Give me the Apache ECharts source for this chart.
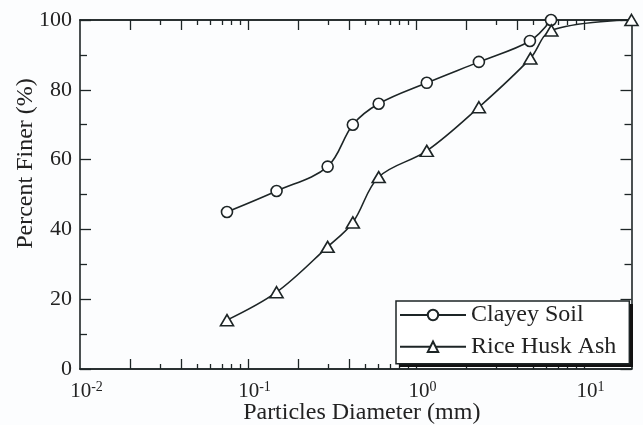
<!DOCTYPE html>
<html>
<head>
<meta charset="utf-8">
<script src="https://cdn.jsdelivr.net/npm/echarts@6/dist/echarts.min.js"></script>
<style>
html,body{margin:0;padding:0;background:#fcfdfe;}
#c{width:643px;height:425px;}
</style>
</head>
<body>
<div id="c"></div>
<script>
// Data
const clayDiameter = [0.075, 0.148, 0.298, 0.421, 0.600, 1.16, 2.37, 4.77, 6.37];
const clayFiner    = [45, 51, 58, 70, 76, 82, 88, 94, 100];
const rhaDiameter  = [0.075, 0.148, 0.298, 0.421, 0.600, 1.16, 2.37, 4.8, 6.4, 19.2];
const rhaFiner     = [14, 22, 35, 42, 55, 62.5, 75, 89, 97, 100];
const seriesNames  = ['Clayey Soil', 'Rice Husk Ash'];
const xMin = 0.01, xMax = 19.2;
const yMin = 0, yMax = 100, yStep = 20;
const xTallTicks  = [0.02, 0.04, 0.1, 0.2, 0.4, 1, 2, 4, 10];
const xShortTicks = [0.03, 0.05, 0.06, 0.07, 0.08, 0.09, 0.3, 0.5, 0.6, 0.7, 0.8, 0.9, 3, 5, 6, 7, 8, 9];

const FONT = 'Liberation Serif';
const INK = '#1d2526';
const TXT = '#222';

function pairs(xs, ys){ return xs.map((x,i)=>[x, ys[i]]); }

function xLabel(v){
  const l = Math.log10(v);
  const e = Math.round(l);
  if (Math.abs(l - e) > 1e-6) return '';
  return '{b|10}{s|' + e + '}';
}

const axisLine = {show:true, lineStyle:{color:INK, width:1.6}};
function xAxisDef(pos, ticks, len, labels){
  return {
    type:'log', logBase:10, min:xMin, max:xMax, position:pos,
    axisLine: axisLine,
    axisTick:{show:true, inside:true, length:len, customValues:ticks, lineStyle:{color:INK, width:1.3}},
    axisLabel: labels ? {
      show:true, margin:11, formatter:xLabel, padding:[0,0,0,13],
      rich:{
        b:{fontFamily:FONT, fontSize:21, color:TXT},
        s:{fontFamily:FONT, fontSize:14, color:TXT, padding:[0,0,9,0]}
      }
    } : {show:false},
    splitLine:{show:false}, minorTick:{show:false}, minorSplitLine:{show:false},
    name: labels && pos==='bottom' ? 'Particles Diameter (mm)' : '',
    nameLocation:'middle', nameGap:32, nameMoveOverlap:false,
    nameTextStyle:{fontFamily:FONT, fontSize:24, color:TXT, padding:[0,0,0,12]}
  };
}
function yAxisDef(pos, labels){
  return {
    type:'value', min:yMin, max:yMax, interval:yStep, position:pos,
    axisLine: axisLine,
    axisTick:{show:true, inside:true, length:11, lineStyle:{color:INK, width:1.3}},
    minorTick:{show:true, splitNumber:2, length:7, lineStyle:{color:INK, width:1.3}},
    axisLabel: labels ? {show:true, margin:8, fontFamily:FONT, fontSize:22, color:TXT} : {show:false},
    splitLine:{show:false},
    name: labels ? 'Percent Finer (%)' : '',
    nameLocation:'middle', nameGap:42, nameMoveOverlap:false,
    nameTextStyle:{fontFamily:FONT, fontSize:24, color:TXT, padding:[0,0,0,62]}
  };
}

const chart = echarts.init(document.getElementById('c'), null, {renderer:'canvas'});
chart.setOption({
  backgroundColor:'#fcfdfe',
  animation:false,
  grid:{left:80, right:11.5, top:20, bottom:56, containLabel:false, outerBoundsMode:'none'},
  xAxis:[
    xAxisDef('bottom', xTallTicks, 10, true),
    xAxisDef('bottom', xShortTicks, 5, false),
    xAxisDef('top', xTallTicks, 10, false),
    xAxisDef('top', xShortTicks, 5, false)
  ],
  yAxis:[ yAxisDef('left', true), yAxisDef('right', false) ],
  graphic:[
    // drop shadow of the legend box
    {type:'rect', left:399, top:304, z:3, silent:true,
     shape:{width:234, height:63}, style:{fill:'#111'}}
  ],
  legend:{
    left:396, top:301, orient:'vertical', z:4,
    padding:[2,13,5,3], itemGap:7.7, itemWidth:66, itemHeight:13,
    backgroundColor:'#ffffff', borderColor:INK, borderWidth:1.5,
    textStyle:{fontFamily:FONT, fontSize:24, color:TXT, lineHeight:24},
    data:seriesNames
  },
  series:[
    {
      name:seriesNames[0], type:'line', xAxisIndex:0, yAxisIndex:0,
      data:pairs(clayDiameter, clayFiner), smooth:0.35, clip:false,
      symbol:'circle', symbolSize:11,
      lineStyle:{color:INK, width:1.6},
      itemStyle:{color:'#ffffff', borderColor:INK, borderWidth:1.6}
    },
    {
      name:seriesNames[1], type:'line', xAxisIndex:0, yAxisIndex:0,
      data:pairs(rhaDiameter, rhaFiner), smooth:0.35, clip:false,
      symbol:'triangle', symbolSize:[13,11],
      lineStyle:{color:INK, width:1.6},
      itemStyle:{color:'#ffffff', borderColor:INK, borderWidth:1.6}
    }
  ]
});
</script>
</body>
</html>
